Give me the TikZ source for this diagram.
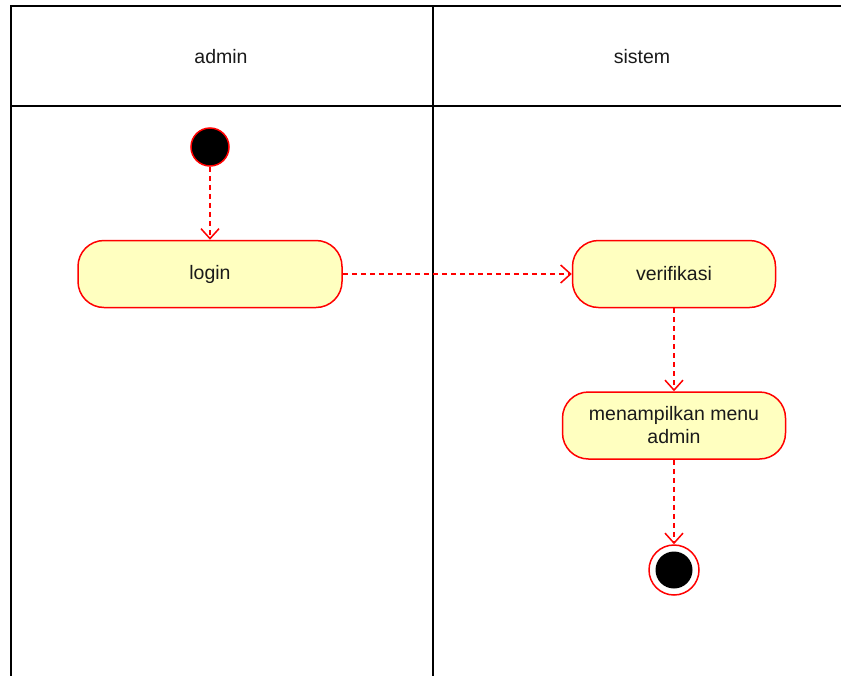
\documentclass[tikz,border=0pt]{standalone}
\usepackage{fontspec}
\setmainfont{Liberation Sans}
\usetikzlibrary{arrows.meta}
\definecolor{actfill}{HTML}{FFFFC0}
\definecolor{actred}{HTML}{FF0000}
\definecolor{txt}{HTML}{1A1A1A}
\tikzset{
  lane/.style={draw=black, line width=1.8pt},
  act/.style={draw=actred, fill=actfill, line width=1.5pt, rounded corners=26pt, align=center, font=\fontsize{19.5}{23}\selectfont, text=txt, inner sep=0pt},
  flow/.style={draw=actred, line width=1.5pt, dash pattern=on 5pt off 4pt, -{Straight Barb[length=10pt, width=18pt, line width=1.5pt]}},
  lbl/.style={font=\fontsize{19.5}{23}\selectfont, text=txt}
}
\begin{document}
\begin{tikzpicture}[x=1pt, y=-1pt]
\useasboundingbox (0,0) rectangle (841,675);
\fill[white] (0,0) rectangle (841,675);
% swimlanes
\draw[lane] (11,680) -- (11,6) -- (850,6);
\draw[lane] (11,106) -- (850,106);
\draw[lane] (433,6) -- (433,680);
\node[lbl] (hadmin) at (221,57) {admin};
\node[lbl] (hsistem) at (642,57) {sistem};
% nodes
\node[circle, fill=black, draw=actred, line width=1.5pt, minimum size=38pt, inner sep=0pt] (start) at (210,147) {};
\node[act, minimum width=264pt, minimum height=67pt] (login) at (210,274) {login};
\node[act, minimum width=203pt, minimum height=67pt] (verif) at (674,274) {verifikasi};
\node[act, minimum width=223pt, minimum height=67pt] (menu) at (674,425.5) {menampilkan menu\\admin};
\node[circle, draw=actred, fill=white, line width=1.5pt, minimum size=50pt, inner sep=0pt] (end) at (674,570) {};
\node[circle, fill=black, minimum size=37pt, inner sep=0pt] (endin) at (end.center) {};
% flows
\draw[flow] (start) -- (login);
\draw[flow] (login) -- (verif);
\draw[flow] (verif) -- (menu);
\draw[flow] (menu) -- (end);
\end{tikzpicture}
\end{document}
